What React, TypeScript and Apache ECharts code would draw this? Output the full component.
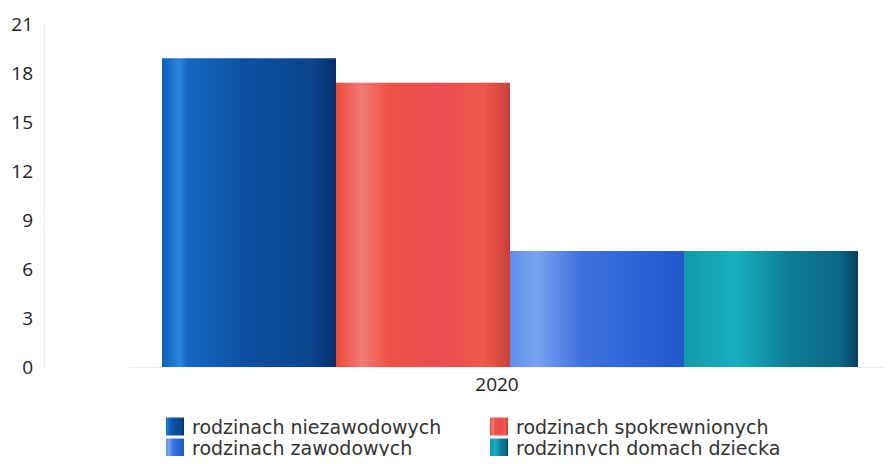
import React, { useEffect, useRef } from "react";
import * as echarts from "echarts";

const categories = ["2020"];
const seriesNames = [
  "rodzinach niezawodowych",
  "rodzinach spokrewnionych",
  "rodzinach zawodowych",
  "rodzinnych domach dziecka",
];
const niezawodowe = [18.9];
const spokrewnione = [17.4];
const zawodowe = [7.1];
const domyDziecka = [7.1];
const yTicks = [0, 3, 6, 9, 12, 15, 18, 21];

const grad = (stops: [number, string][]) =>
  new echarts.graphic.LinearGradient(
    0, 0, 1, 0,
    stops.map(([offset, color]) => ({ offset, color }))
  );

const colors = [
  grad([
    [0, "#0d5fb8"],
    [0.1, "#2b86e0"],
    [0.15, "#1566c4"],
    [0.5, "#0b4f9e"],
    [0.85, "#0a468f"],
    [1, "#082f6a"],
  ]),
  grad([
    [0, "#ec4a38"],
    [0.15, "#f27a78"],
    [0.3, "#ef5244"],
    [0.6, "#ea4c52"],
    [0.85, "#f05a48"],
    [1, "#c8403a"],
  ]),
  grad([
    [0, "#5c8eea"],
    [0.15, "#7aa4f0"],
    [0.4, "#3f72de"],
    [0.75, "#2c62d6"],
    [1, "#2456cc"],
  ]),
  grad([
    [0, "#129aa8"],
    [0.3, "#18aec0"],
    [0.6, "#0e7d95"],
    [0.9, "#0b6685"],
    [1, "#073f5e"],
  ]),
];

const data = [niezawodowe, spokrewnione, zawodowe, domyDziecka];

export default function App() {
  const ref = useRef<HTMLDivElement>(null);
  useEffect(() => {
    if (!ref.current) return;
    const chart = echarts.init(ref.current, undefined, { renderer: "svg" });
    const font = "'Open Sans', sans-serif";
    const legendBase = {
      orient: "vertical",
      top: 417,
      padding: 0,
      itemWidth: 18,
      itemHeight: 18,
      itemGap: 2,
      icon: "rect",
      textStyle: {
        fontSize: 19,
        lineHeight: 19,
        color: "#333",
        fontFamily: "'DejaVu Sans', sans-serif",
        padding: [0, 0, 0, 3],
      },
    };
    chart.setOption({
      animation: false,
      textStyle: { fontFamily: font },
      grid: { left: 130, right: 3, top: 24, bottom: 97 },
      legend: [
        { ...legendBase, left: 166, data: [seriesNames[0], seriesNames[2]] },
        { ...legendBase, left: 490, data: [seriesNames[1], seriesNames[3]] },
      ],
      xAxis: {
        type: "category",
        data: categories,
        axisLine: { show: true, lineStyle: { color: "#eeeeee" } },
        axisTick: { show: false },
        axisLabel: {
          fontSize: 19,
          color: "#222",
          fontFamily: font,
          margin: 7,
          padding: [0, 26, 0, 0],
        },
      },
      yAxis: {
        type: "value",
        min: yTicks[0],
        max: yTicks[yTicks.length - 1],
        interval: 3,
        offset: 86,
        axisLine: { show: true, lineStyle: { color: "#eeeeee" } },
        axisTick: { show: false },
        splitLine: { show: false },
        axisLabel: {
          fontSize: 19,
          color: "#222",
          fontFamily: font,
          margin: 11,
          align: "right",
        },
      },
      series: seriesNames.map((name, i) => ({
        name,
        type: "bar",
        data: data[i],
        barWidth: 174,
        barGap: "0%",
        itemStyle: { color: colors[i] },
      })),
    });
    return () => chart.dispose();
  }, []);
  return <div ref={ref} style={{ width: 893, height: 464, margin: -8 }} />;
}
